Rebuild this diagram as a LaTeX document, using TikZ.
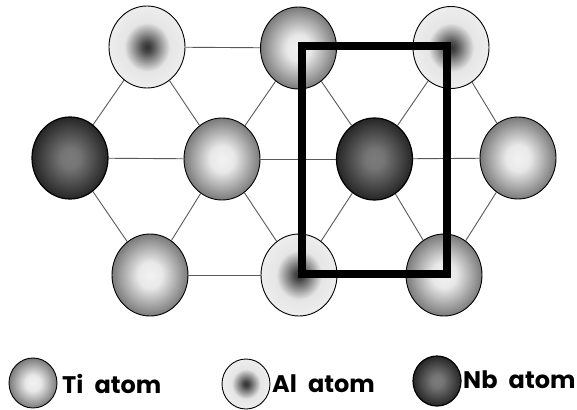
\documentclass[tikz,border=0pt]{standalone}
\usepackage{fontspec}
\setmainfont{Poppins}[WordSpace=2.2]
\usetikzlibrary{shapes.geometric}
% Radial fills: the outline of each atom falls at 25bp in shading space
\pgfdeclareradialshading{tifill}{\pgfpointorigin}{
  color(0bp)=(black!5); color(8bp)=(black!9); color(25bp)=(black!52); color(50bp)=(black!52)}
\pgfdeclareradialshading{alfill}{\pgfpointorigin}{
  color(0bp)=(black!80); color(3bp)=(black!72); color(15bp)=(black!10); color(25bp)=(black!7); color(50bp)=(black!7)}
\pgfdeclareradialshading{nbfill}{\pgfpointorigin}{
  color(0bp)=(black!52); color(6bp)=(black!54); color(25bp)=(black!85); color(50bp)=(black!85)}
\tikzset{
  atom/.style={ellipse,draw=black,line width=0.9pt,inner sep=0pt,minimum width=76pt,minimum height=82pt},
  tiatom/.style={atom,shading=tifill},
  alatom/.style={atom,shading=alfill},
  nbatom/.style={atom,shading=nbfill,line width=1.2pt},
  small/.style={minimum width=48pt,minimum height=50pt},
  bond/.style={draw=black!65,line width=0.9pt},
  cell/.style={draw=black,line width=8pt,inner sep=0pt,minimum width=145.5pt,minimum height=228pt},
  label/.style={font=\bfseries\fontsize{24}{28}\selectfont,anchor=base west,inner sep=0pt}
}
\begin{document}
\begin{tikzpicture}[x=1pt,y=-1pt]
\useasboundingbox (0,0) rectangle (577,409);
% lattice sites, top row to bottom row
\node[alatom] (a1) at (147,47) {};
\node[tiatom] (a2) at (298.5,48) {};
\node[alatom] (a3) at (451,47.5) {};
\node[nbatom] (b1) at (70,158) {};
\node[tiatom] (b2) at (222,159) {};
\node[nbatom] (b3) at (374.5,159) {};
\node[tiatom] (b4) at (518,158) {};
\node[tiatom] (d1) at (150,275) {};
\node[alatom] (d2) at (299,275) {};
\node[tiatom] (d3) at (444,275) {};
% bonds between neighbouring sites
\foreach \u/\v in {a1/a2,a2/a3,b1/b2,b2/b3,b3/b4,d1/d2,d2/d3,
  a1/b1,a1/b2,a2/b2,a2/b3,a3/b3,a3/b4,
  b1/d1,b2/d1,b2/d2,b3/d2,b3/d3,b4/d3}
  \draw[bond] (\u) -- (\v);
% unit cell outline
\node[cell] (unitcell) at (374.5,160) {};
% legend
\node[tiatom,small] (keyti) at (33,383) {};
\node[alatom,small] (keyal) at (246,384) {};
\node[nbatom,small] (keynb) at (437,381) {};
\node[label] (textti) at (62,393) {Ti atom};
\node[label] (textal) at (272,392) {Al atom};
\node[label] (textnb) at (463,388) {Nb atom};
\end{tikzpicture}
\end{document}
